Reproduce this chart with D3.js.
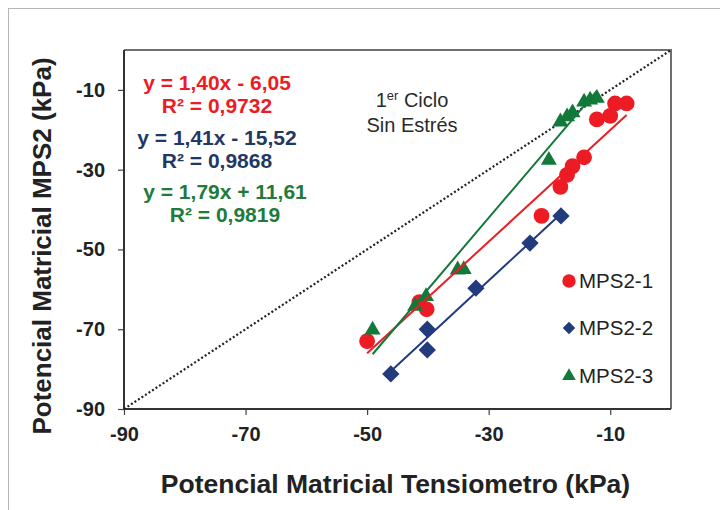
<!DOCTYPE html>
<html>
<head>
<meta charset="utf-8">
<script src="https://cdn.jsdelivr.net/npm/d3@7"></script>
<style>
  body { margin: 0; background: #fff; }
  text { font-family: "Liberation Sans", Arial, sans-serif; }
</style>
</head>
<body>
<div id="chart"></div>
<script>
// data
var seriesNames = ["MPS2-1", "MPS2-2", "MPS2-3"];
var mps1 = [[-50.0, -73.0], [-41.4, -63.2], [-40.2, -65.0], [-21.3, -41.6], [-18.2, -34.3], [-17.1, -31.3],
            [-16.2, -29.1], [-14.3, -26.9], [-12.2, -17.4], [-10.0, -16.5], [-9.2, -13.4], [-7.3, -13.4]];
var mps2 = [[-46.1, -81.2], [-40.1, -75.2], [-40.1, -70.0], [-32.1, -59.7], [-23.2, -48.4], [-18.1, -41.6]];
var mps3 = [[-49.1, -70.2], [-42.1, -64.2], [-40.3, -61.8], [-35.1, -55.1], [-34.1, -55.0], [-20.1, -27.6],
            [-18.2, -18.0], [-17.1, -16.7], [-16.2, -15.7], [-14.3, -13.0], [-13.3, -12.5], [-12.2, -12.1]];
var slopes = [1.40, 1.41, 1.79];
var intercepts = [-6.05, -15.52, 11.61];
var eqLabels = ["y = 1,40x - 6,05", "y = 1,41x - 15,52", "y = 1,79x + 11,61"];
var r2Labels = ["0,9732", "0,9868", "0,9819"];
var xTicks = [-90, -70, -50, -30, -10];
var yTicks = [-90, -70, -50, -30, -10];

var colors = ["#ED1C24", "#213B7D", "#13793A"];
var textColors = ["#ED1C24", "#1F3864", "#1E7B3B"];

var W = 720, H = 510;
var margin = {top: 50, right: 49, bottom: 101, left: 124};
var width = W - margin.left - margin.right,
    height = H - margin.top - margin.bottom;

var root = d3.select("#chart").append("svg")
    .attr("width", W)
    .attr("height", H);

// outer frame
root.append("rect")
    .attr("x", 8.5).attr("y", 8.5)
    .attr("width", 730).attr("height", 520)
    .attr("fill", "none")
    .attr("stroke", "#b5b5b5");

var svg = root.append("g")
    .attr("transform", "translate(" + margin.left + "," + margin.top + ")");

var x = d3.scaleLinear().domain([-90, 0]).range([0, width]);
var y = d3.scaleLinear().domain([-90, 0]).range([height, 0]);

// axes
var xAxis = d3.axisBottom(x).tickValues(xTicks).tickSize(6).tickPadding(12).tickFormat(d3.format("d"));
var yAxis = d3.axisLeft(y).tickValues(yTicks).tickSize(6).tickPadding(13).tickFormat(d3.format("d"));

var gx = svg.append("g").attr("transform", "translate(0," + height + ")").call(xAxis);
var gy = svg.append("g").call(yAxis);
[gx, gy].forEach(function(g) {
    g.select(".domain").remove();
    g.selectAll(".tick line").attr("stroke", "#444").attr("stroke-width", 1.2);
    g.selectAll(".tick text")
        .attr("fill", "#222")
        .style("font-size", "20px")
        .style("font-weight", "bold")
        .text(function(d) { return d3.format("d")(d).replace("−", "-"); });
});

// plot frame
svg.append("path")
    .attr("d", "M0,0H" + width + "V" + height)
    .attr("fill", "none").attr("stroke", "#6f6f6f").attr("stroke-width", 2);
svg.append("path")
    .attr("d", "M0,0V" + height + "H" + width)
    .attr("fill", "none").attr("stroke", "#333").attr("stroke-width", 2);

// 1:1 line
svg.append("line")
    .attr("x1", x(-90)).attr("y1", y(-90))
    .attr("x2", x(0)).attr("y2", y(0))
    .attr("stroke", "#222")
    .attr("stroke-width", 2.2)
    .attr("stroke-dasharray", "2,2.2");

// markers
var allSeries = [mps1, mps2, mps3];
var symbols = [
    d3.symbol().type(d3.symbolCircle).size(195),
    d3.symbol().type(d3.symbolSquare).size(150),
    d3.symbol().type(d3.symbolTriangle).size(110)
];
var rotations = [0, 45, 0];

allSeries.forEach(function(data, i) {
    svg.append("g").selectAll("path")
        .data(data)
        .enter().append("path")
        .attr("d", symbols[i])
        .attr("transform", function(d) {
            return "translate(" + x(d[0]) + "," + y(d[1]) + ") rotate(" + rotations[i] + ")";
        })
        .attr("fill", colors[i]);
});

// trend lines
allSeries.forEach(function(data, i) {
    var ext = d3.extent(data, function(d) { return d[0]; });
    svg.append("line")
        .attr("x1", x(ext[0])).attr("y1", y(slopes[i] * ext[0] + intercepts[i]))
        .attr("x2", x(ext[1])).attr("y2", y(slopes[i] * ext[1] + intercepts[i]))
        .attr("stroke", colors[i])
        .attr("stroke-width", 2);
});

// equations
var eqX = [217, 217, 225];
var eqY = [90, 145, 199];
eqLabels.forEach(function(lab, i) {
    root.append("text")
        .attr("x", eqX[i]).attr("y", eqY[i])
        .attr("text-anchor", "middle")
        .attr("fill", textColors[i])
        .style("font-size", "21px").style("font-weight", "bold")
        .text(lab);
    root.append("text")
        .attr("x", eqX[i]).attr("y", eqY[i] + 23)
        .attr("text-anchor", "middle")
        .attr("fill", textColors[i])
        .style("font-size", "21px").style("font-weight", "bold")
        .text("R² = " + r2Labels[i]);
});

// annotation
var note = root.append("text")
    .attr("x", 412).attr("y", 107)
    .attr("text-anchor", "middle")
    .attr("fill", "#2a2a2a")
    .style("font-size", "20px");
note.append("tspan").text("1");
note.append("tspan").attr("dy", -7).style("font-size", "13px").text("er");
note.append("tspan").attr("dy", 7).text(" Ciclo");
root.append("text")
    .attr("x", 412).attr("y", 132)
    .attr("text-anchor", "middle")
    .attr("fill", "#2a2a2a")
    .style("font-size", "20px")
    .text("Sin Estrés");

// legend
var legY = [281, 328, 376];
var legSymbols = [
    d3.symbol().type(d3.symbolCircle).size(140),
    d3.symbol().type(d3.symbolSquare).size(78),
    d3.symbol().type(d3.symbolTriangle).size(80)
];
seriesNames.forEach(function(name, i) {
    root.append("path")
        .attr("d", legSymbols[i])
        .attr("transform", "translate(569," + legY[i] + ") rotate(" + rotations[i] + ")")
        .attr("fill", colors[i]);
    root.append("text")
        .attr("x", 579).attr("y", legY[i] + 7)
        .attr("fill", "#222")
        .style("font-size", "20.5px")
        .text(name);
});

// axis titles
root.append("text")
    .attr("x", margin.left + width / 2 - 2).attr("y", 493)
    .attr("text-anchor", "middle")
    .attr("fill", "#222")
    .style("font-size", "26.5px").style("font-weight", "bold")
    .text("Potencial Matricial Tensiometro (kPa)");

root.append("text")
    .attr("transform", "translate(51,246) rotate(-90)")
    .attr("text-anchor", "middle")
    .attr("fill", "#222")
    .style("font-size", "26px").style("font-weight", "bold")
    .text("Potencial Matricial MPS2 (kPa)");
</script>
</body>
</html>
